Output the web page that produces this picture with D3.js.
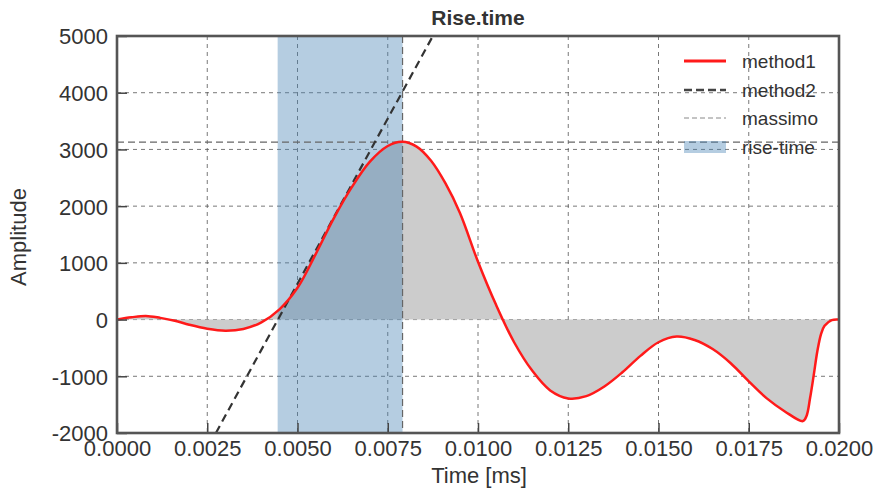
<!DOCTYPE html>
<html>
<head>
<meta charset="utf-8">
<script src="https://cdn.jsdelivr.net/npm/d3@7"></script>
<style>
  body { margin: 0; background: #fff; }
  text { font-family: "Liberation Sans", Arial, sans-serif; fill: #333; }
</style>
</head>
<body>
<svg width="877" height="490"></svg>
<script>
// data ===============================================================

var timeMs = [0, 0.0004, 0.0008, 0.0012, 0.0016, 0.002, 0.0025, 0.003, 0.0035, 0.004,
  0.0045, 0.005, 0.0055, 0.006, 0.0065, 0.007, 0.0075, 0.0079, 0.0083, 0.0087,
  0.0091, 0.0095, 0.01, 0.0105, 0.011, 0.0115, 0.012, 0.0125, 0.013, 0.0135,
  0.014, 0.0145, 0.015, 0.0155, 0.016, 0.0165, 0.017, 0.0175, 0.018, 0.0185,
  0.019, 0.0191, 0.0192, 0.0193, 0.0194, 0.0195, 0.0196, 0.0198, 0.02];
var amplitude = [0, 40, 65, 30, -20, -90, -160, -195, -165, -50,
  180, 560, 1150, 1780, 2330, 2780, 3060, 3135, 3050, 2800,
  2400, 1880, 1020, 260, -400, -900, -1250, -1390, -1350, -1180,
  -930, -640, -400, -300, -360, -520, -770, -1090, -1390, -1620,
  -1790, -1700, -1380, -980, -560, -260, -110, -10, 0];

// method2: straight line fitted on the rising edge
var method2X = [0.00274, 0.00875];
var method2Y = [-2000, 5000];

var peakTime = 0.00791;
var peakValue = 3130;
var riseStart = 0.00445;
var riseEnd = 0.00791;

var xTicks = [0, 0.0025, 0.005, 0.0075, 0.01, 0.0125, 0.015, 0.0175, 0.02];
var yTicks = [-2000, -1000, 0, 1000, 2000, 3000, 4000, 5000];
var legendLabels = ["method1", "method2", "massimo", "rise-time"];

// setup ==============================================================

var svg = d3.select("svg");
var pLeft = 117, pRight = 839, pTop = 36, pBottom = 433;

var x = d3.scaleLinear().domain([0, 0.02]).range([pLeft, pRight]);
var y = d3.scaleLinear().domain([-2000, 5000]).range([pBottom, pTop]);

var pts = timeMs.map(function(t, i) { return [t, amplitude[i]]; });

svg.append("clipPath").attr("id", "clip")
  .append("rect").attr("x", pLeft).attr("y", pTop)
  .attr("width", pRight - pLeft).attr("height", pBottom - pTop);

// grid
var grid = svg.append("g");
grid.selectAll(".gx").data(xTicks.slice(1, -1)).enter().append("line")
  .attr("x1", function(d) { return x(d); }).attr("x2", function(d) { return x(d); })
  .attr("y1", pTop).attr("y2", pBottom)
  .attr("stroke", "#555").attr("stroke-width", 0.8).attr("stroke-dasharray", "4,4");
grid.selectAll(".gy").data(yTicks.slice(1, -1)).enter().append("line")
  .attr("y1", function(d) { return y(d); }).attr("y2", function(d) { return y(d); })
  .attr("x1", pLeft).attr("x2", pRight)
  .attr("stroke", "#555").attr("stroke-width", 0.8).attr("stroke-dasharray", "4,4");

var plot = svg.append("g").attr("clip-path", "url(#clip)");

// grey area between curve and zero
var curve = d3.curveCatmullRom.alpha(0.5);
plot.append("path").datum(pts)
  .attr("fill", "#cccccc")
  .attr("d", d3.area().curve(curve)
    .x(function(d) { return x(d[0]); })
    .y0(y(0))
    .y1(function(d) { return y(d[1]); }));

// rise-time span
plot.append("rect")
  .attr("x", x(riseStart)).attr("width", x(riseEnd) - x(riseStart))
  .attr("y", pTop).attr("height", pBottom - pTop)
  .attr("fill", "steelblue").attr("fill-opacity", 0.4);

// massimo lines
plot.append("line")
  .attr("x1", pLeft).attr("x2", pRight).attr("y1", y(peakValue)).attr("y2", y(peakValue))
  .attr("stroke", "#666").attr("stroke-width", 1.2).attr("stroke-dasharray", "7,4");
plot.append("line")
  .attr("x1", x(peakTime)).attr("x2", x(peakTime)).attr("y1", pTop).attr("y2", pBottom)
  .attr("stroke", "#666").attr("stroke-width", 1.2).attr("stroke-dasharray", "7,4");

// method2
plot.append("line")
  .attr("x1", x(method2X[0])).attr("y1", y(method2Y[0]))
  .attr("x2", x(method2X[1])).attr("y2", y(method2Y[1]))
  .attr("stroke", "#333").attr("stroke-width", 2.2).attr("stroke-dasharray", "8,5");

// method1
plot.append("path").datum(pts)
  .attr("fill", "none").attr("stroke", "#ff1a1a").attr("stroke-width", 2.5)
  .attr("d", d3.line().curve(curve)
    .x(function(d) { return x(d[0]); })
    .y(function(d) { return y(d[1]); }));

// axes
var xAxis = svg.append("g").attr("transform", "translate(0," + pBottom + ")")
  .call(d3.axisBottom(x).tickValues(xTicks).tickFormat(function(d) { return d.toFixed(4); })
    .tickSizeInner(-10).tickSizeOuter(0));
var yAxis = svg.append("g").attr("transform", "translate(" + pLeft + ",0)")
  .call(d3.axisLeft(y).tickValues(yTicks).tickFormat(function(d) { return String(d); })
    .tickSizeInner(-10).tickSizeOuter(0));
[xAxis, yAxis].forEach(function(a) {
  a.select(".domain").remove();
  a.selectAll(".tick line").attr("stroke", "#444").attr("stroke-width", 1.5);
  a.selectAll(".tick text").attr("font-size", 22).attr("fill", "#333")
    .style("font-family", "'Liberation Sans', Arial, sans-serif");
});
xAxis.selectAll(".tick text").attr("y", 23).attr("dy", null);
yAxis.selectAll(".tick text").attr("x", -9).attr("dy", "0.36em");

// frame
svg.append("rect").attr("x", pLeft).attr("y", pTop)
  .attr("width", pRight - pLeft).attr("height", pBottom - pTop)
  .attr("fill", "none").attr("stroke", "#555").attr("stroke-width", 2.6);

// labels
svg.append("text").attr("x", 478).attr("y", 25)
  .attr("text-anchor", "middle").attr("font-size", 21).attr("font-weight", "bold")
  .text("Rise.time");
svg.append("text").attr("x", 479).attr("y", 483)
  .attr("text-anchor", "middle").attr("font-size", 22).text("Time [ms]");
svg.append("text").attr("transform", "translate(26,237) rotate(-90)")
  .attr("text-anchor", "middle").attr("font-size", 22).text("Amplitude");

// legend
var leg = svg.append("g");
var rowY = [61, 90, 118, 147];
leg.append("line").attr("x1", 684).attr("x2", 726).attr("y1", rowY[0]).attr("y2", rowY[0])
  .attr("stroke", "#ff1a1a").attr("stroke-width", 2.8);
leg.append("line").attr("x1", 684).attr("x2", 726).attr("y1", rowY[1]).attr("y2", rowY[1])
  .attr("stroke", "#444").attr("stroke-width", 2.6).attr("stroke-dasharray", "8,4");
leg.append("line").attr("x1", 684).attr("x2", 726).attr("y1", rowY[2]).attr("y2", rowY[2])
  .attr("stroke", "#888").attr("stroke-width", 1).attr("stroke-dasharray", "5,3");
leg.append("rect").attr("x", 684).attr("y", rowY[3] - 6).attr("width", 42).attr("height", 12)
  .attr("fill", "steelblue").attr("fill-opacity", 0.4);
leg.selectAll(".lt").data(legendLabels).enter().append("text")
  .attr("x", 742).attr("y", function(d, i) { return rowY[i]; })
  .attr("dy", "0.35em").attr("font-size", 19).attr("fill", "#444")
  .text(function(d) { return d; });
</script>
</body>
</html>
